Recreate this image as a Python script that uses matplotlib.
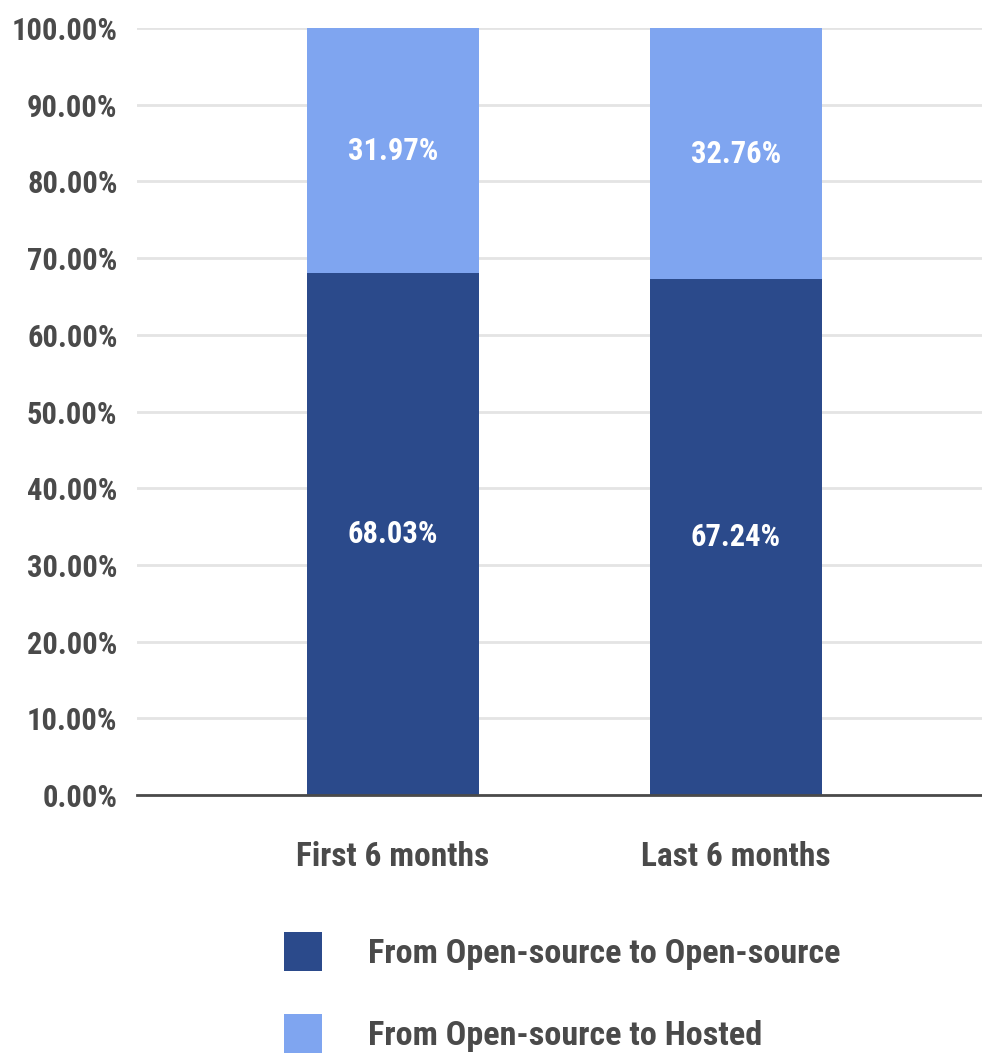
import numpy as np
import matplotlib.pyplot as plt

categories = ['First 6 months', 'Last 6 months']
open_to_open = [68.03, 67.24]
open_to_hosted = [31.97, 32.76]
series_names = ['From Open-source to Open-source', 'From Open-source to Hosted']

dark = '#2b4a8b'
light = '#7fa5f0'
txt = '#4a4a4a'

plt.rcParams['font.family'] = ['Liberation Sans Narrow', 'Roboto Condensed', 'DejaVu Sans']
plt.rcParams['font.stretch'] = 'condensed'
plt.rcParams['font.weight'] = 'bold'

fig = plt.figure(figsize=(9.82, 10.54), dpi=100, facecolor='white')
ax = fig.add_axes([0.1395, 0.2457, 0.8605, 0.7277])

x = np.arange(len(categories))
b1 = ax.bar(x, open_to_open, width=0.5, color=dark, label=series_names[0], zorder=2)
b2 = ax.bar(x, open_to_hosted, width=0.5, bottom=open_to_open, color=light,
            label=series_names[1], zorder=2)

# labels in the middle of each segment
for i in range(len(categories)):
    ax.text(x[i], open_to_open[i] / 2, f'{open_to_open[i]:.2f}%', ha='center', va='center',
            color='white', fontsize=22, fontweight='bold')
    ax.text(x[i], open_to_open[i] + open_to_hosted[i] / 2, f'{open_to_hosted[i]:.2f}%',
            ha='center', va='center', color='white', fontsize=22, fontweight='bold')

ax.set_xlim(-0.746, 1.717)
ax.set_ylim(0, 100)
ax.set_yticks(np.arange(0, 101, 10))
ax.set_yticklabels([f'{v:.2f}%' for v in np.arange(0, 101, 10)])
ax.set_xticks(x)
ax.set_xticklabels(categories)
ax.tick_params(axis='y', length=0, pad=14, labelsize=22, labelcolor=txt)
ax.tick_params(axis='x', length=0, pad=33, labelsize=24, labelcolor=txt)
ax.grid(axis='y', color='#e4e4e4', linewidth=2, zorder=0)
for s in ['top', 'right', 'left']:
    ax.spines[s].set_visible(False)
ax.spines['bottom'].set_color(txt)
ax.spines['bottom'].set_linewidth(2)
ax.spines['bottom'].set_zorder(3)

leg = fig.legend(handles=[b1, b2], loc='upper left', bbox_to_anchor=(0.258, 0.145),
                 frameon=False, fontsize=24.6, handlelength=1.1, handleheight=1.37,
                 handletextpad=1.37, labelspacing=1.27, labelcolor=txt)

fig.savefig('out.png', dpi=100, facecolor='white')
